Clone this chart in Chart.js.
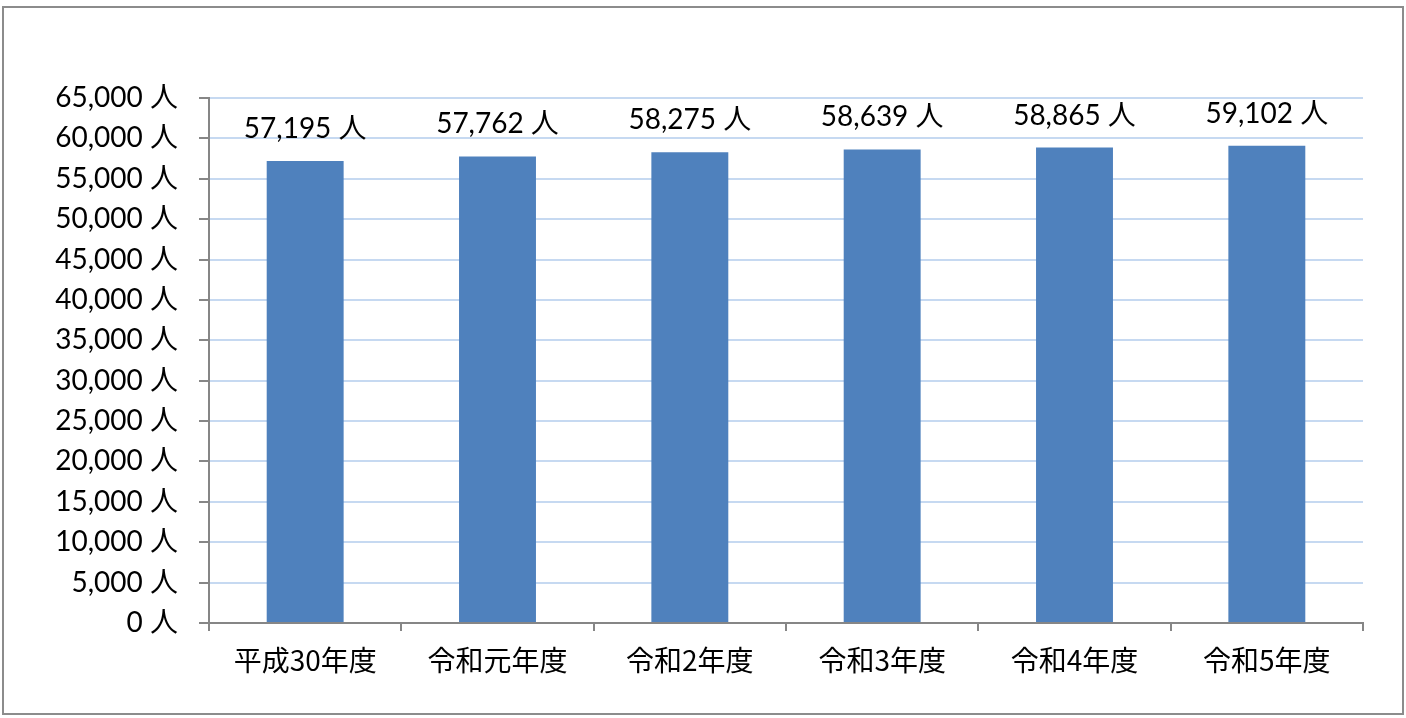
<!DOCTYPE html>
<html lang="ja">
<head>
<meta charset="utf-8">
<script src="https://cdn.jsdelivr.net/npm/chart.js@4"></script>
<style>
  html, body { margin: 0; padding: 0; background: #fff; }
  #wrap {
    position: absolute; left: 2px; top: 6px;
    width: 1402px; height: 709px; box-sizing: border-box;
    border: 2px solid #8c8c8c; background: #fff;
  }
  canvas { display: block; }
</style>
</head>
<body>
<div id="wrap"><canvas id="chart"></canvas></div>
<script>
// 年度ごとの人数
const years  = ["平成30年度", "令和元年度", "令和2年度", "令和3年度", "令和4年度", "令和5年度"];
const people = [57195, 57762, 58275, 58639, 58865, 59102];

const yMax  = 65000;
const yStep = 5000;

const FONT = "Lato, 'Noto Sans CJK JP', sans-serif";
const fmt = v => v.toLocaleString("en-US") + " 人";

// 棒の上に数値を描く
const valueLabels = {
  id: "valueLabels",
  afterDatasetsDraw(chart) {
    const { ctx } = chart;
    const meta = chart.getDatasetMeta(0);
    ctx.save();
    ctx.font = "28px " + FONT;
    ctx.fillStyle = "#000";
    ctx.textAlign = "center";
    ctx.textBaseline = "middle";
    meta.data.forEach((bar, i) => {
      ctx.fillText(fmt(people[i]), bar.x, bar.y - 32);
    });
    ctx.restore();
  }
};

const canvas = document.getElementById("chart");
canvas.width = 1398;
canvas.height = 705;

new Chart(canvas.getContext("2d"), {
  type: "bar",
  data: {
    labels: years,
    datasets: [{
      data: people,
      backgroundColor: "#4f81bd",
      barPercentage: 0.4,
      categoryPercentage: 1.0
    }]
  },
  options: {
    responsive: false,
    animation: false,
    layout: { padding: { left: 0, right: 39, top: 90, bottom: 0 } },
    plugins: { legend: { display: false }, tooltip: { enabled: false } },
    scales: {
      x: {
        afterFit: s => { s.height = 90; },
        border: { color: "#868686", width: 2 },
        grid: {
          offset: true,
          drawOnChartArea: false,
          tickLength: 8,
          tickColor: "#868686",
          lineWidth: 2
        },
        ticks: {
          color: "#000",
          padding: 13,
          font: { size: 28, family: "'Noto Sans CJK JP', sans-serif" }
        }
      },
      y: {
        min: 0,
        max: yMax,
        afterFit: s => { s.width = 205; },
        border: { color: "#868686", width: 2 },
        grid: {
          color: c => c.tick && c.tick.value === 0 ? "#868686" : "#c6d9f1",
          lineWidth: 2,
          tickLength: 10,
          tickColor: "#868686"
        },
        ticks: {
          stepSize: yStep,
          color: "#000",
          padding: 21,
          font: { size: 28, family: FONT },
          callback: v => fmt(v)
        }
      }
    }
  },
  plugins: [valueLabels]
});
</script>
</body>
</html>
